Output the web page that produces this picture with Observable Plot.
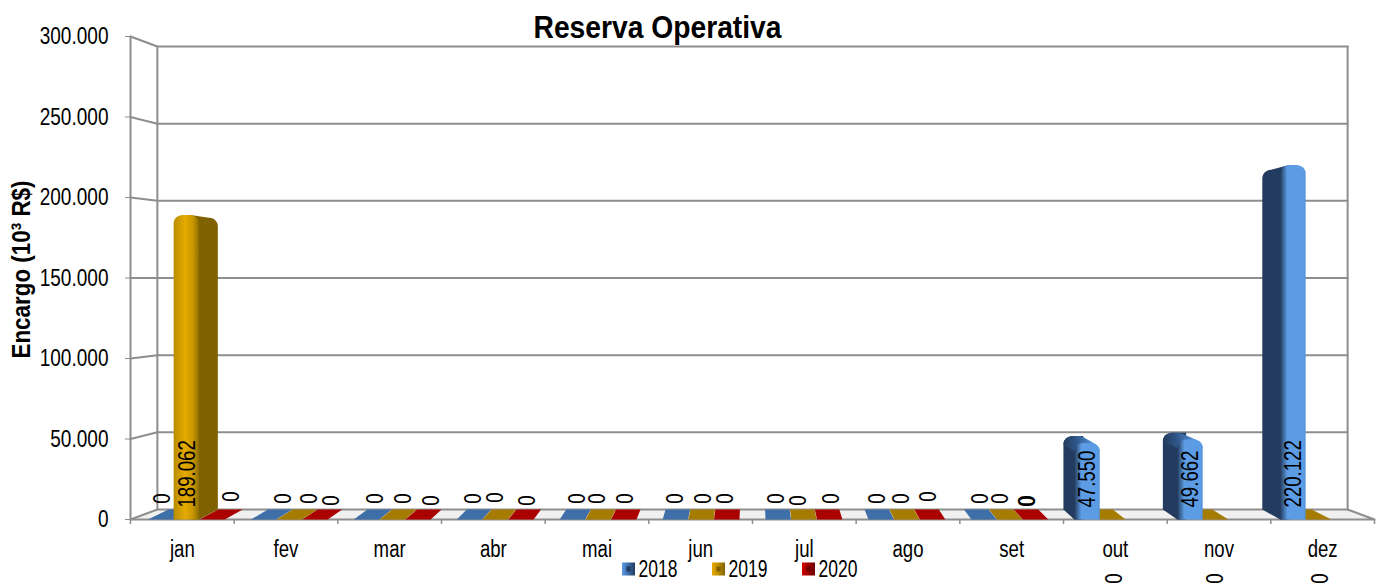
<!DOCTYPE html>
<html><head><meta charset="utf-8">
<script src="https://cdn.jsdelivr.net/npm/d3@7"></script>
<script src="https://cdn.jsdelivr.net/npm/@observablehq/plot@0.6"></script>
<style>html,body{margin:0;padding:0;background:#fff;overflow:hidden}svg{display:block}</style>
</head><body>
<script>
// ---- data ----
const months = ["jan","fev","mar","abr","mai","jun","jul","ago","set","out","nov","dez"];
const years = ["2018","2019","2020"];
const v2018 = [0,0,0,0,0,0,0,0,0,47550,49662,220122];
const v2019 = [189062,0,0,0,0,0,0,0,0,0,0,0];
const v2020 = [0,0,0,0,0,0,0,0,0,null,null,null];
const yTicks = [0,50000,100000,150000,200000,250000,300000];
const title = "Reserva Operativa";
const yTitle = "Encargo (10³ R$)";

// ---- placement of the hand-moved "0" labels (page pixels: [x, y], per series, month order) ----
const zeroSpots = {
  "2018": [[162,498],[283,498],[375,498],[473,498],[577,498],[675,498],[776,498],[877,498],[980,498]],
  "2019": [null,[309,498],[403,498],[495,497],[597,498],[703,498],[798,500],[901,498],[1000,498],[1114,578],[1215,578],[1320,578]],
  "2020": [[231,496],[331,500],[431,500],[527,500],[625,498],[725,498],[831,498],[928,496],[1027,500]]
};

// ---- frame and perspective ----
const W = 1389, H = 584, L = 130, R = 1374, T = 36, B = 519;
const ux = px => (px - L) / ((R - L) / 12);       // page px -> month units
const uy = py => (B - py) / (B - T) * 300000;     // page py -> value units
const wallX = x => x + (6 - x) * 0.0432;
const wallY = v => v + (150000 - v) * 0.0414;
const barX  = x => x + (6 - x) * 0.034;
const barW = 0.245;
const rx = 0.085, ry = 5200;

const seriesColors = {
  "2018": {slat:"#3f6fa9", side:"#233b5e", a:"#3a6cab", b:"#5c9ce4", c:"#5593dc"},
  "2019": {slat:"#a67c00", side:"#7f6100", a:"#bd8e00", b:"#e5aa00", c:"#c99700"},
  "2020": {slat:"#ab0000", side:"#6d0000", a:"#a00000", b:"#d00000", c:"#b00000"}
};
const values = {"2018":v2018,"2019":v2019,"2020":v2020};

function corner(cx, cy, a0, a1, n = 6) {
  return d3.range(n + 1).map(i => {
    const a = a0 + (a1 - a0) * i / n;
    return [cx + rx * Math.cos(a), cy + ry * Math.sin(a)];
  });
}
const slats = [], sides = [], tops = [], fronts = [], valueLabels = [], zeroLabels = [];
years.forEach((yr, s) => {
  values[yr].forEach((v, m) => {
    if (v === null) return;
    const c = m + 0.5 + (s - 1) * 0.25;
    const x0 = c - barW / 2 + (6 - c) * 0.007, x1 = x0 + barW;
    const id = `${yr}-${m}`;
    if (v === 0) {
      [[x0,0],[x1,0],[barX(x1),wallY(0)],[barX(x0),wallY(0)]].forEach(([x,y]) => slats.push({id,yr,x,y}));
      const spot = zeroSpots[yr][m];
      if (spot) zeroLabels.push({x:ux(spot[0]), y:uy(spot[1]), v, bold: yr==="2020" && m===8});
      return;
    }
    const left = c < 6;
    const edge = left ? x1 : x0;
    const outer = barX(edge);
    const vb = wallY(v);
    const inward = left ? -rx : rx;
    const sidePts = left
      ? [[edge+inward,0],[edge,0],[outer,wallY(0)],...corner(outer-rx,vb-ry,0,Math.PI/2),[edge+inward,Math.max(v,vb)]]
      : [[edge+inward,0],[edge,0],[outer,wallY(0)],...corner(outer+rx,vb-ry,Math.PI,Math.PI/2),[edge+inward,Math.max(v,vb)]];
    sidePts.forEach(([x,y]) => sides.push({id,yr,x,y}));
    if (vb > v) {
      d3.polygonHull([...corner(x0+rx,v-ry,Math.PI,Math.PI/2),...corner(x1-rx,v-ry,Math.PI/2,0),
       ...corner(barX(x1)-rx,vb-ry,0,Math.PI/2),...corner(barX(x0)+rx,vb-ry,Math.PI/2,Math.PI)])
        .forEach(([x,y]) => tops.push({id,yr,x,y}));
    }
    [[x0,0],[x1,0],...corner(x1-rx,v-ry,0,Math.PI/2),...corner(x0+rx,v-ry,Math.PI/2,Math.PI)]
      .forEach(([x,y]) => fronts.push({id,yr,x,y}));
    valueLabels.push({x:(x0+x1)/2, v});
  });
});

const fmt = v => d3.format(",")(v).replace(/,/g, ".");
const byYr = (arr, yr) => arr.filter(d => d.yr === yr);
const poly = (arr, fill) => Plot.line(arr, {x:"x", y:"y", z:"id", fill, stroke:"none", curve:"linear"});
const grey = "#8e8e8e";
const seg = pts => Plot.line(pts, {x:d=>d[0], y:d=>d[1], curve:"linear", stroke:grey, strokeWidth:2});

const lx = [ux(622), ux(712), ux(802)];
const legendW = ux(143) - ux(130);
const legend = years.map((yr,i) => ({yr, x1:lx[i], x2:lx[i]+legendW, y1:uy(575.5), y2:uy(562.5),
  ix1:lx[i]+legendW*0.34, ix2:lx[i]+legendW*0.66, iy1:uy(571.5), iy2:uy(566.5), tx:ux(638)+lx[i]-lx[0]}));

const chart = Plot.plot({
  width: W, height: H,
  marginTop: T, marginBottom: H - B, marginLeft: L, marginRight: W - R,
  x: {domain:[0,12], axis:null},
  y: {domain:[0,300000], axis:null},
  style: {fontFamily:"'Liberation Sans', Arial, sans-serif", background:"#fff", color:"#000", overflow:"hidden"},
  marks: [
    // floor
    Plot.line([[0,0],[12,0],[wallX(12),wallY(0)],[wallX(0),wallY(0)]],
      {x:d=>d[0], y:d=>d[1], fill:"#f0f0f0", stroke:"none", curve:"linear"}),
    // wall grid and side wall
    ...yTicks.map(t => seg([[0,t],[wallX(0),wallY(t)],[wallX(12),wallY(t)]])),
    seg([[0,0],[0,300000]]),
    seg([[wallX(0),wallY(0)],[wallX(0),wallY(300000)]]),
    seg([[wallX(12),wallY(0)],[wallX(12),wallY(300000)]]),
    seg([[0,0],[12,0],[wallX(12),wallY(0)]]),
    Plot.ruleX(d3.range(13), {y1:0, y2:uy(524), stroke:grey, strokeWidth:1.5}),
    Plot.axisY({ticks:yTicks, tickFormat:fmt, tickSize:5, tickPadding:17, label:null, stroke:grey, fill:"#000", fontSize:23.5}),
    Plot.axisX({ticks:months.map((d,i)=>i+0.5), tickFormat:i=>months[Math.floor(i)], tickSize:0, tickPadding:21, label:null, fill:"#000", fontSize:23}),
    // bars
    ...years.map(yr => poly(byYr(slats,yr), seriesColors[yr].slat)),
    ...years.map(yr => poly(byYr(sides,yr), seriesColors[yr].side)),
    ...years.map(yr => poly(byYr(tops,yr), `url(#top${yr})`)),
    ...years.map(yr => poly(byYr(fronts,yr), `url(#front${yr})`)),
    // labels
    Plot.text(valueLabels, {x:"x", y:uy(507), text:d=>fmt(d.v), rotate:-90, textAnchor:"start", lineAnchor:"middle", dx:1, fontSize:23, fill:"#000"}),
    Plot.text(zeroLabels, {x:"x", y:"y", text:d=>String(d.v), rotate:-90, textAnchor:"middle", lineAnchor:"middle", fontSize:23, fill:"#000"}),
    Plot.text(zeroLabels.filter(d=>d.bold), {x:"x", y:"y", text:d=>String(d.v), rotate:-90, textAnchor:"middle", lineAnchor:"middle", fontSize:23, fill:"#000", dy:1}),
    // titles
    Plot.text([title], {x:ux(657), y:uy(27), text:d=>d, fontSize:32, fontWeight:"bold", fill:"#000", lineAnchor:"middle"}),
    Plot.text([yTitle], {x:ux(21), y:uy(269), text:d=>d, rotate:-90, fontSize:25, fontWeight:"bold", fill:"#000", lineAnchor:"middle"}),
    // legend
    ...legend.map(d => Plot.rect([d], {x1:"x1", x2:"x2", y1:"y1", y2:"y2", fill:`url(#swatch${d.yr})`})),
    ...legend.map(d => Plot.rect([d], {x1:"ix1", x2:"ix2", y1:"iy1", y2:"iy2", fill:seriesColors[d.yr].side})),
    Plot.text(legend, {x:"tx", y:uy(569), text:"yr", textAnchor:"start", lineAnchor:"middle", fontSize:23, fill:"#000"})
  ]
});

// gradients
const defs = d3.select(chart).insert("defs", ":first-child");
function grad(id, stops) {
  const g = defs.append("linearGradient").attr("id", id).attr("x1",0).attr("x2",1).attr("y1",0).attr("y2",0);
  stops.forEach(([o,c]) => g.append("stop").attr("offset",o).attr("stop-color",c));
}
years.forEach(yr => {
  const c = seriesColors[yr];
  grad(`front${yr}`, yr === "2018"
    ? [[0,c.side],[0.28,c.b],[0.9,c.b],[1,c.c]]
    : [[0,"#b88c00"],[0.45,"#e5aa00"],[0.75,"#c99700"],[1,"#8f6e00"]]);
  grad(`top${yr}`, yr === "2018"
    ? [[0,c.side],[0.35,"#2f5689"],[0.75,"#4f8bd4"],[1,c.b]]
    : [[0,"#b88c00"],[0.5,"#e5aa00"],[1,c.side]]);
  grad(`swatch${yr}`, [[0,c.b],[0.5,c.a],[1,c.side]]);
});

document.body.append(chart);

// The reference type is horizontally squeezed; keep it real text and condense it.
d3.select(chart).selectAll("text").each(function() {
  const t = this.textContent;
  const len = this.getComputedTextLength();
  if (!len) return;
  let target = len * 0.81;
  if (t === title) target = 248;
  else if (t === yTitle) target = 178;
  else if (years.includes(t)) target = 39;
  this.setAttribute("textLength", target);
  this.setAttribute("lengthAdjust", "spacingAndGlyphs");
});
</script>
</body></html>
